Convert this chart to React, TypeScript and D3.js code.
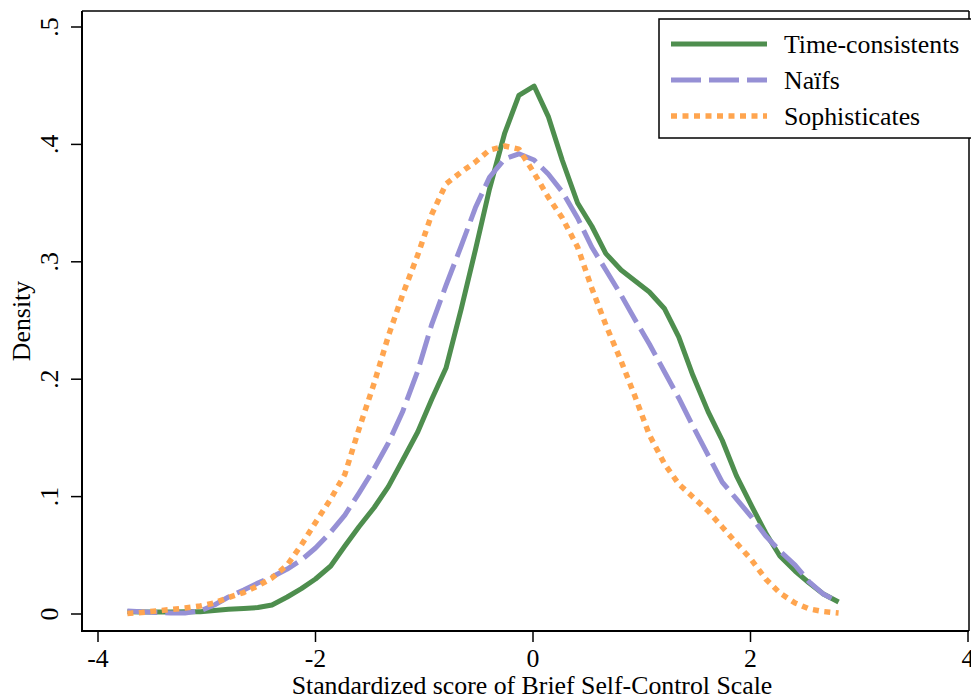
import React from "react";
import * as d3 from "d3";

const xGrid = [
  -3.73, -3.6, -3.46, -3.33, -3.2, -3.06, -2.93, -2.8, -2.66, -2.53,
  -2.4, -2.26, -2.13, -2.0, -1.86, -1.73, -1.6, -1.46, -1.33, -1.2,
  -1.06, -0.93, -0.8, -0.66, -0.53, -0.4, -0.26, -0.13, 0.01, 0.14,
  0.27, 0.41, 0.54, 0.67, 0.81, 0.94, 1.07, 1.21, 1.34, 1.47,
  1.61, 1.74, 1.87, 2.01, 2.14, 2.27, 2.41, 2.54, 2.67, 2.81,
];

const timeConsistents = [
  0.002, 0.0017, 0.0017, 0.0017, 0.002, 0.002, 0.003, 0.004, 0.0047, 0.0055,
  0.0077, 0.0145, 0.0216, 0.0298, 0.0409, 0.0579, 0.0743, 0.0907, 0.1085, 0.1307,
  0.155, 0.1831, 0.2095, 0.26, 0.31, 0.362, 0.4097, 0.4417, 0.4497, 0.4239,
  0.3863, 0.3501, 0.3305, 0.307, 0.293, 0.2836, 0.2743, 0.26, 0.236, 0.2033,
  0.1724, 0.148, 0.1179, 0.092, 0.069, 0.0494, 0.0366, 0.0264, 0.017, 0.0102,
];

const naifs = [
  0.0026, 0.002, 0.0013, 0.0009, 0.0009, 0.0026, 0.0077, 0.0145, 0.0204, 0.0264,
  0.0315, 0.0383, 0.046, 0.0562, 0.0698, 0.0843, 0.103, 0.124, 0.1457, 0.172,
  0.207, 0.247, 0.28, 0.3135, 0.346, 0.372, 0.3876, 0.392, 0.3867, 0.3748,
  0.3595, 0.3373, 0.3126, 0.293, 0.2717, 0.2504, 0.23, 0.2061, 0.184, 0.1601,
  0.1354, 0.1124, 0.098, 0.0826, 0.0664, 0.0537, 0.0417, 0.0273, 0.017, 0.0102,
];

const sophisticates = [
  0.0004, 0.0013, 0.0026, 0.0038, 0.0051, 0.0068, 0.0094, 0.014, 0.0183, 0.0239,
  0.0307, 0.0417, 0.0588, 0.078, 0.098, 0.119, 0.1576, 0.1968, 0.2368, 0.2717,
  0.3058, 0.3407, 0.3663, 0.3765, 0.385, 0.3952, 0.3986, 0.396, 0.3756, 0.355,
  0.3373, 0.3126, 0.2777, 0.2462, 0.2155, 0.1848, 0.1525, 0.1278, 0.1107, 0.0997,
  0.0877, 0.0741, 0.0605, 0.046, 0.0298, 0.0179, 0.0094, 0.0043, 0.0021, 0.0009,
];

const xTicks = [-4, -2, 0, 2, 4];
const xTickLabels = ["-4", "-2", "0", "2", "4"];
const yTicks = [0, 0.1, 0.2, 0.3, 0.4, 0.5];
const yTickLabels = ["0", ".1", ".2", ".3", ".4", ".5"];
const seriesNames = ["Time-consistents", "Naïfs", "Sophisticates"];

const FONT = "'Liberation Serif', 'Times New Roman', serif";

export default function App() {
  const W = 971;
  const H = 698;
  const x = d3.scaleLinear().domain([-4, 4]).range([98, 968]);
  const y = d3.scaleLinear().domain([0, 0.5]).range([614, 27]);
  const left = 82;
  const bottom = 631;
  const top = 11;
  const right = 969;

  const styles = [
    { color: "#4e8e4e", dash: "none", width: 5 },
    { color: "#9690d5", dash: "30 8", width: 5 },
    { color: "#ffa54f", dash: "6 5.5", width: 5.5 },
  ];
  const seriesVals = [timeConsistents, naifs, sophisticates];

  const line = d3
    .line<[number, number]>()
    .x((d) => x(d[0]))
    .y((d) => y(d[1]));

  const fs = 25.8;

  return (
    <svg width={W} height={H} style={{ position: "absolute", left: 0, top: 0, background: "#fff" }}>
      <rect x={0} y={0} width={W} height={H} fill="#fff" />
      {/* frame */}
      <line x1={left} x2={right} y1={top} y2={top} stroke="#000" strokeWidth={1.5} />
      <line x1={right} x2={right} y1={top} y2={bottom} stroke="#000" strokeWidth={1.5} />
      {/* curves */}
      {seriesVals.map((vals, i) => (
        <path
          key={i}
          d={line(xGrid.map((xv, j) => [xv, vals[j]] as [number, number])) || ""}
          fill="none"
          stroke={styles[i].color}
          strokeWidth={styles[i].width}
          strokeDasharray={styles[i].dash}
          strokeLinejoin="round"
        />
      ))}
      {/* axes */}
      <line x1={left} x2={left} y1={top} y2={bottom + 1} stroke="#000" strokeWidth={2} />
      <line x1={left - 1} x2={right} y1={bottom} y2={bottom} stroke="#000" strokeWidth={2} />
      {yTicks.map((t, i) => (
        <g key={"y" + i}>
          <line x1={left - 11} x2={left} y1={y(t)} y2={y(t)} stroke="#000" strokeWidth={1.5} />
          <text
            transform={`translate(58,${y(t)}) rotate(-90)`}
            textAnchor="middle"
            fontFamily={FONT}
            fontSize={fs}
            fill="#000"
          >
            {yTickLabels[i]}
          </text>
        </g>
      ))}
      {xTicks.map((t, i) => (
        <g key={"x" + i}>
          <line x1={x(t)} x2={x(t)} y1={bottom} y2={bottom + 11} stroke="#000" strokeWidth={1.5} />
          <text x={x(t)} y={667} textAnchor="middle" fontFamily={FONT} fontSize={fs} fill="#000">
            {xTickLabels[i]}
          </text>
        </g>
      ))}
      <text
        transform={`translate(30,${(top + bottom) / 2}) rotate(-90)`}
        textAnchor="middle"
        fontFamily={FONT}
        fontSize={fs}
        fill="#000"
      >
        Density
      </text>
      <text x={532} y={694} textAnchor="middle" fontFamily={FONT} fontSize={fs} fill="#000">
        Standardized score of Brief Self-Control Scale
      </text>
      {/* legend */}
      <rect x={659} y={19} width={330} height={119} fill="#fff" stroke="#000" strokeWidth={1.5} />
      {seriesNames.map((name, i) => {
        const ly = 44 + i * 36;
        return (
          <g key={"l" + i}>
            <line
              x1={671}
              x2={767}
              y1={ly}
              y2={ly}
              stroke={styles[i].color}
              strokeWidth={styles[i].width}
              strokeDasharray={styles[i].dash}
            />
            <text x={784} y={ly + 9} fontFamily={FONT} fontSize={fs} fill="#000">
              {name}
            </text>
          </g>
        );
      })}
    </svg>
  );
}
